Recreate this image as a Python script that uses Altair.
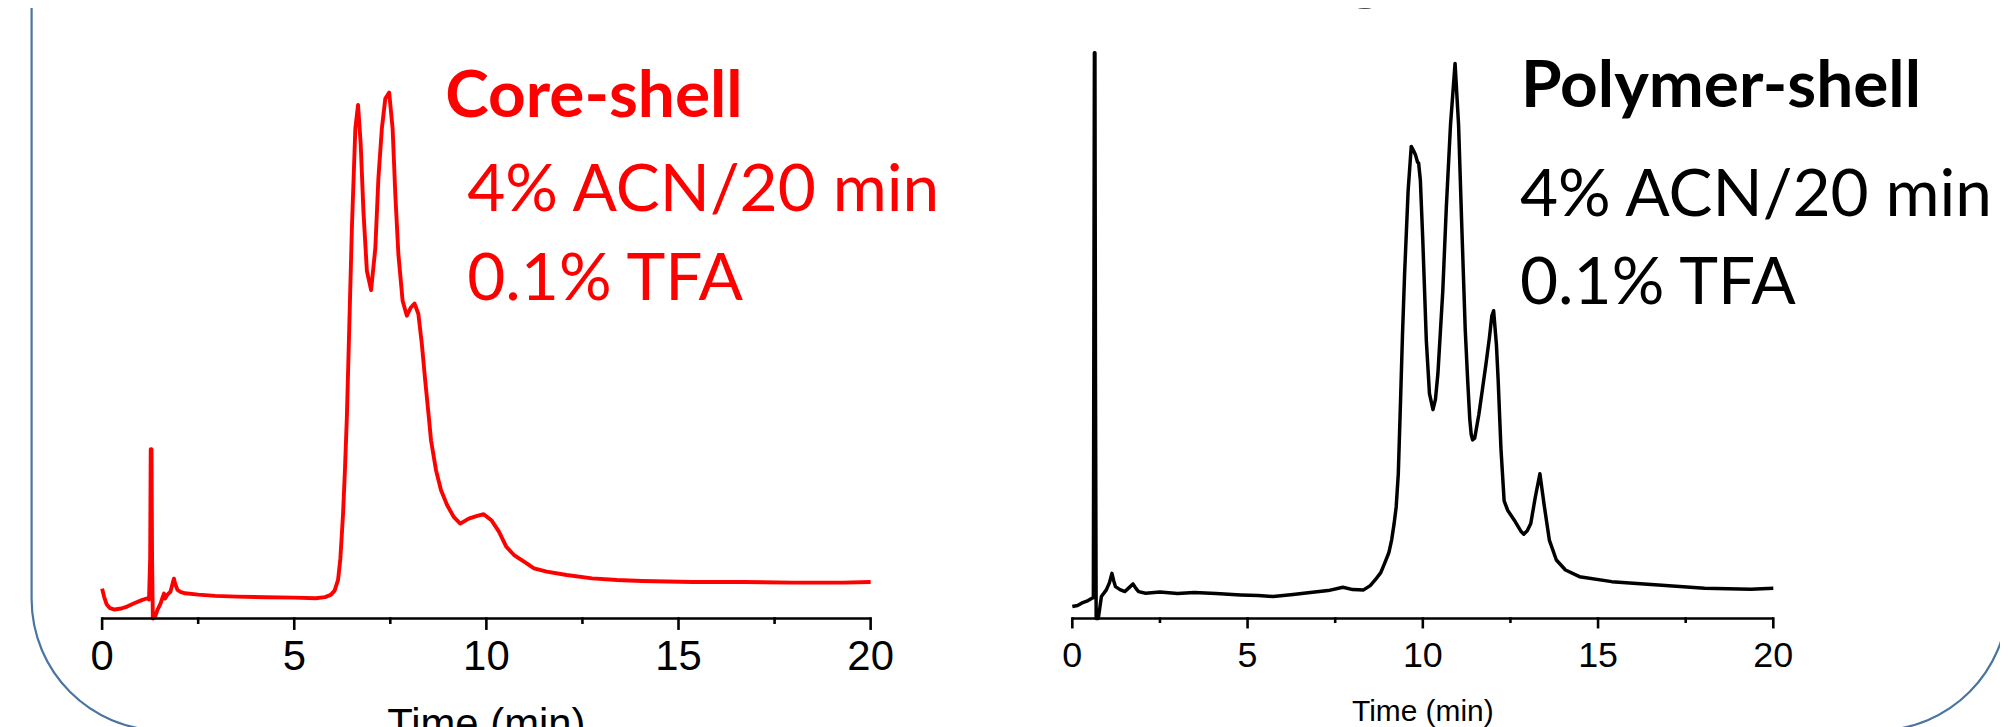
import altair as alt
import pandas as pd

# ---------------- data ----------------
CORE_T = [0.00, 0.05, 0.12, 0.20, 0.33, 0.50, 0.65, 0.85, 1.05, 1.18, 1.22, 1.25, 1.265, 1.285, 1.30,
          1.32, 1.37, 1.44, 1.52, 1.58, 1.61, 1.64, 1.70, 1.78, 1.84, 1.87, 1.90, 1.96, 2.05, 2.16,
          2.50, 2.94, 3.50, 4.25, 5.00, 5.56, 5.80, 5.95, 6.05, 6.14, 6.20, 6.27, 6.32, 6.37, 6.43,
          6.50, 6.59, 6.66, 6.73, 6.80, 6.89, 7.00, 7.11, 7.19, 7.28, 7.37, 7.47, 7.56, 7.63, 7.71,
          7.82, 7.93, 8.03, 8.13, 8.23, 8.32, 8.41, 8.51, 8.56, 8.69, 8.82, 8.98, 9.15, 9.32, 9.54,
          9.74, 9.93, 10.13, 10.33, 10.52, 10.72, 10.98, 11.24, 11.57, 12.09, 12.75, 13.40, 14.05,
          15.36, 16.67, 17.97, 19.28, 20.00]
CORE_V = [6.0, 4.4, 2.8, 2.1, 1.8, 2.0, 2.4, 3.1, 3.74, 4.06, 3.8, 12.0, 34.0, 34.0, 12.0,
          0.0, 0.2, 1.74, 3.0, 4.4, 5.0, 4.0, 4.8, 5.4, 7.2, 8.0, 7.0, 5.74, 5.3, 5.06,
          4.8, 4.54, 4.4, 4.26, 4.2, 4.06, 4.3, 4.74, 5.6, 7.74, 12.0, 21.0, 30.0, 40.6, 58.0,
          78.4, 98.4, 103.14, 95.14, 81.8, 69.8, 65.94, 74.4, 88.4, 98.4, 104.4, 105.6, 98.4, 85.14, 73.14,
          63.8, 60.8, 62.4, 63.26, 61.14, 55.14, 47.6, 39.8, 35.74, 29.74, 25.74, 22.74, 20.4, 19.06, 20.06,
          20.54, 20.94, 19.74, 17.4, 14.4, 12.74, 11.4, 10.06, 9.4, 8.74, 8.06, 7.74, 7.54,
          7.34, 7.34, 7.2, 7.2, 7.34]

POLY_T = [0.00, 0.15, 0.30, 0.45, 0.56, 0.60, 0.615, 0.63, 0.645, 0.66, 0.68, 0.74, 0.83, 0.97, 1.06,
          1.13, 1.18, 1.23, 1.36, 1.50, 1.62, 1.73, 1.82, 1.89, 2.09, 2.50, 3.00, 3.48, 4.10, 4.80,
          5.30, 5.73, 6.30, 6.79, 7.30, 7.72, 8.00, 8.31, 8.50, 8.64, 8.80, 8.91, 9.03, 9.11, 9.18,
          9.24, 9.30, 9.37, 9.42, 9.48, 9.58, 9.67, 9.73, 9.79, 9.85, 9.88, 9.93, 10.00, 10.10, 10.19,
          10.29, 10.36, 10.43, 10.57, 10.67, 10.79, 10.92, 11.02, 11.11, 11.21, 11.28, 11.34, 11.38, 11.42, 11.48,
          11.60, 11.70, 11.80, 11.90, 11.97, 12.02, 12.10, 12.15, 12.23, 12.32, 12.42, 12.61, 12.81, 12.88, 12.98,
          13.08, 13.21, 13.34, 13.47, 13.61, 13.81, 14.07, 14.47, 15.39, 16.72, 18.04, 19.36, 20.00]
POLY_V = [2.4, 2.6, 3.2, 3.6, 4.06, 4.2, 60.0, 113.6, 113.6, 50.0, 0.0, 0.0, 4.4, 5.74, 7.2,
          9.06, 7.6, 6.4, 5.8, 5.4, 6.2, 6.94, 6.0, 5.4, 5.06, 5.3, 5.0, 5.2, 5.0, 4.74,
          4.6, 4.4, 4.8, 5.2, 5.6, 6.26, 5.8, 5.74, 6.6, 7.74, 9.2, 11.06, 13.2, 15.74, 19.0,
          22.4, 29.0, 45.0, 57.0, 69.14, 85.8, 94.8, 94.0, 93.14, 91.6, 91.46, 88.0, 75.8, 55.8, 45.14,
          41.94, 44.0, 49.14, 65.8, 82.46, 99.14, 111.46, 99.14, 79.14, 58.0, 47.8, 40.0, 37.0, 35.86, 36.2,
          41.0, 46.0, 51.0, 56.4, 60.8, 61.8, 55.0, 47.8, 34.0, 23.6, 21.74, 19.74, 17.4, 16.94, 17.6,
          19.06, 24.4, 29.06, 22.4, 15.74, 11.74, 9.74, 8.4, 7.4, 6.74, 6.06, 5.86, 6.06]

TICKS_MAJOR = [0, 5, 10, 15, 20]
TICK_LABELS = ["0", "5", "10", "15", "20"]
TICKS_MINOR = [2.5, 7.5, 12.5, 17.5]
LEFT_TEXT = ["Core-shell", "4% ACN/20 min", "0.1% TFA"]
RIGHT_TEXT = ["Polymer-shell", "4% ACN/20 min", "0.1% TFA"]
X_TITLE = "Time (min)"
SLIDE_TITLE_TAIL = "g"

# ---------------- layout ----------------
W, H = 2000, 719
AXIS_Y = 611.5
PX_PER_UNIT = 5.0
L_X0, L_X1 = 94.5, 866.1
R_X0, R_X1 = 1068.6, 1772.4
ANN_FONT = "Lato, Open Sans, sans-serif"
AX_FONT = "Liberation Sans, Arial, sans-serif"


def xdomain(x0, x1, tmin=0.0, tmax=20.0):
    per_px = (tmax - tmin) / (x1 - x0)
    d0 = tmin - x0 * per_px
    return [d0, d0 + W * per_px]


Y_DOMAIN = [-(H - AXIS_Y) / PX_PER_UNIT, AXIS_Y / PX_PER_UNIT]


def panel(t, v, color, lw, x0, x1, axis_w, tick_len, minor_len, lab_size, lab_base,
          title_size, title_base, texts, text_color, text_xs, text_bases, text_size):
    xs = alt.Scale(domain=xdomain(x0, x1), nice=False, zero=False)
    ys = alt.Scale(domain=Y_DOMAIN, nice=False, zero=False)
    df = pd.DataFrame({"t": t, "v": v})
    layers = []
    layers.append(
        alt.Chart(df).mark_line(color=color, strokeWidth=lw, strokeJoin="round").encode(
            x=alt.X("t:Q", scale=xs, axis=None),
            y=alt.Y("v:Q", scale=ys, axis=None),
        )
    )
    dom = pd.DataFrame({"a": [TICKS_MAJOR[0]], "b": [TICKS_MAJOR[-1]]})
    layers.append(
        alt.Chart(dom).mark_rule(color="black", strokeWidth=axis_w).encode(
            x=alt.X("a:Q", scale=xs, axis=None), x2="b:Q", y=alt.value(AXIS_Y)
        )
    )
    maj = pd.DataFrame({"t": TICKS_MAJOR, "lab": TICK_LABELS})
    layers.append(
        alt.Chart(maj).mark_rule(color="black", strokeWidth=axis_w).encode(
            x=alt.X("t:Q", scale=xs, axis=None),
            y=alt.value(AXIS_Y - axis_w / 2), y2=alt.value(AXIS_Y + tick_len),
        )
    )
    mino = pd.DataFrame({"t": TICKS_MINOR})
    layers.append(
        alt.Chart(mino).mark_rule(color="black", strokeWidth=axis_w).encode(
            x=alt.X("t:Q", scale=xs, axis=None),
            y=alt.value(AXIS_Y - axis_w / 2), y2=alt.value(AXIS_Y + minor_len),
        )
    )
    layers.append(
        alt.Chart(maj).mark_text(font=AX_FONT, fontSize=lab_size, baseline="alphabetic",
                                 align="center", color="black").encode(
            x=alt.X("t:Q", scale=xs, axis=None), y=alt.value(lab_base), text="lab:N"
        )
    )
    ttl = pd.DataFrame({"t": [10.0], "s": [X_TITLE]})
    layers.append(
        alt.Chart(ttl).mark_text(font=AX_FONT, fontSize=title_size, baseline="alphabetic",
                                 align="center", color="black").encode(
            x=alt.X("t:Q", scale=xs, axis=None), y=alt.value(title_base), text="s:N"
        )
    )
    for i, (s, tx, yb) in enumerate(zip(texts, text_xs, text_bases)):
        layers.append(
            alt.Chart(pd.DataFrame({"s": [s]})).mark_text(
                font=ANN_FONT, fontSize=text_size, fontWeight="bold" if i == 0 else "normal",
                baseline="alphabetic", align="left", color=text_color
            ).encode(x=alt.value(tx), y=alt.value(yb), text="s:N")
        )
    return layers


frame = alt.Chart(pd.DataFrame({"k": [1]})).mark_rect(
    cornerRadius=132, stroke="#4a74a2", strokeWidth=2.2, fill="white", fillOpacity=0
).encode(x=alt.value(23.7), x2=alt.value(2008), y=alt.value(-208), y2=alt.value(724))

gtail = alt.Chart(pd.DataFrame({"s": [SLIDE_TITLE_TAIL]})).mark_text(
    font=ANN_FONT, fontSize=90, baseline="alphabetic", align="center", color="black"
).encode(x=alt.value(1363), y=alt.value(-18), text="s:N")

left = panel(CORE_T, CORE_V, "#ff0000", 3.9, L_X0, L_X1, 2.6, 11.5, 5.5, 42, 663.7,
             42, 731, LEFT_TEXT, "#ff0000", [439, 461, 461], [108, 202.5, 292], 66)
right = panel(POLY_T, POLY_V, "#000000", 3.5, R_X0, R_X1, 2.6, 10, 4.5, 36, 660.3,
              30, 714, RIGHT_TEXT, "#000000", [1519, 1518, 1518], [97.5, 207.5, 295.5], 66)

chart = alt.layer(frame, gtail, *left, *right).resolve_scale(x="independent").properties(
    width=W, height=H, autosize=alt.AutoSizeParams(type="none"), padding=0
).configure_view(stroke=None)

chart.save("out.html", embed_options={"renderer": "svg", "actions": False})
